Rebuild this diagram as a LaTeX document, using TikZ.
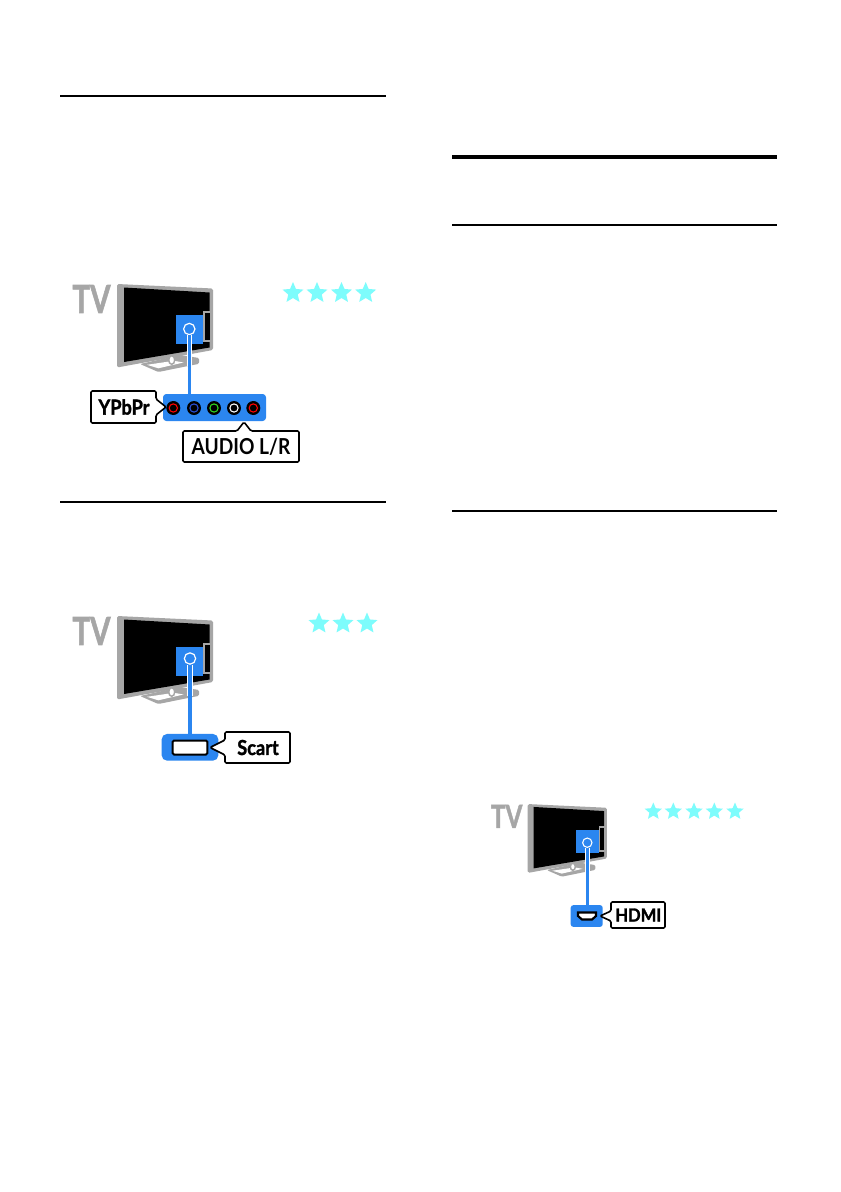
\documentclass[tikz,border=0pt]{standalone}
\usepackage{fontspec}
\setmainfont{Lato}
\newfontfamily\gillmed{Lato}[BoldFeatures={FakeBold=1.6}]
\newfontfamily\gillbold{Lato}
\usetikzlibrary{shapes.geometric}
\definecolor{tvgrey}{HTML}{A6A6A6}
\definecolor{tvblue}{HTML}{2B86F0}
\definecolor{starcyan}{HTML}{7DFCFC}
\definecolor{ringblue}{HTML}{2A50D8}
\definecolor{ringgreen}{HTML}{30D820}
\tikzset{
  x=0.75pt,y=-0.75pt,
  rulehair/.style={draw=black,line width=0.85pt},
  rulemid/.style={draw=black,line width=1.5pt},
  rulethick/.style={draw=black,line width=2.5pt},
  tvword/.style={text=tvgrey,font=\gillmed\bfseries\fontsize{29}{29}\selectfont,inner sep=0pt,anchor=center},
  starmark/.style={star,star points=5,star point ratio=2.2,fill=starcyan,draw=none,minimum size=16.5pt,inner sep=0pt},
  calloutline/.style={draw=black,line width=1.2pt,fill=white,line join=round,rounded corners=1pt},
  calloutlabel/.style={font=\gillmed\bfseries\fontsize{15.5}{16}\selectfont,inner sep=0pt,text=black,anchor=center},
  cablew/.style={draw=white,line width=4pt},
  cableb/.style={draw=tvblue,line width=2.5pt},
  jack/.style={circle,fill=black,draw=none,minimum size=10.5pt,inner sep=0pt},
}
% #1 x, #2 y origin of TV drawing (page pixels), #3 scale, #4 word size factor
\newcommand{\tvset}[4]{%
 \begin{scope}[shift={(#1,#2)},scale=#3]
  \node[tvword] (tvw) at (31.5,29) {\scalebox{#4}{\scalebox{0.76}[1]{TV}}};
  \fill[tvgrey,rounded corners=1.2pt] (57,14)--(153,18.5)--(153,80)--(57,97.5)--cycle;
  \fill[tvgrey,rounded corners=1pt] (80,94)--(98.3,102)--(139,93.8)--(139,88)--(120,85)--cycle;
  \fill[white] (87,94.8)--(98.3,98.3)--(123.5,92.5)--(114,90.8)--cycle;
  \fill[black] (64,17.5)--(149.5,22.5)--(149.5,77.5)--(64,92)--cycle;
  \fill[tvgrey] (143,41)--(151,41)--(151,72)--(143,72)--cycle;
  \fill[black] (145,43)--(149.5,43)--(149.5,70)--(145,70)--cycle;
  \fill[tvblue] (116,45)--(143,45)--(143,73.5)--(116,73.5)--cycle;
  \draw[tvgrey,line width=1.1pt,fill=white] (111.7,90) ellipse [x radius=3,y radius=4.3];
 \end{scope}}
\begin{document}
\begin{tikzpicture}
\useasboundingbox (0,0) rectangle (840,1192);
\fill[white] (0,0) rectangle (840,1192);
% rules
\draw[rulehair] (60,96) coordinate (r1a) -- (386,96) coordinate (r1b);
\draw[rulemid] (60,502) coordinate (r2a) -- (386,502) coordinate (r2b);
\draw[rulethick] (452,157) coordinate (r3a) -- (777,157) coordinate (r3b);
\draw[rulemid] (452,225) coordinate (r4a) -- (777,225) coordinate (r4b);
\draw[rulemid] (452,511) coordinate (r5a) -- (777,511) coordinate (r5b);

% ---------- YPbPr
\tvset{60}{270}{1}{1}
\foreach \sx in {293,317,341.5,365.7}{\node[starmark] at (\sx,293) {};}
\node[draw=none,fill=tvblue,rounded corners=2.5pt,minimum width=77.25pt,minimum height=20.25pt,inner sep=0pt] (ypb) at (214.5,407.5) {};
\node[circle,minimum size=8.5pt,inner sep=0pt,draw=white,line width=0.9pt] (p1) at (189.3,329) {};
\draw[cablew] (p1.south) -- (189.3,366);
\draw[cableb] (p1.south) -- (p1.south|-ypb.north);
\foreach \jx/\jc [count=\i] in {173.3/red,194/ringblue,214/ringgreen,234/white,253.3/red}{
  \node[jack] (j\i) at (\jx,408) {};
  \node[circle,draw=\jc,line width=0.8pt,minimum size=6.2pt,inner sep=0pt] at (\jx,408) {};
}
\draw[calloutline] (91,391) -- (156,391) -- (156,399) -- (166,407) -- (156,415) -- (156,423) -- (91,423) -- cycle;
\node[calloutlabel] (ypblabel) at (124,407) {\scalebox{0.88}[1]{YPbPr}};
\draw[calloutline] (183,431) -- (237,431) -- (244,422) -- (251,431) -- (299,431) -- (299,462) -- (183,462) -- cycle;
\node[calloutlabel,font=\gillbold\bfseries\fontsize{16.5}{17}\selectfont] (audiolabel) at (241,446.5) {\scalebox{0.87}[1]{AUDIO L/R}};

% ---------- Scart
\tvset{60}{602}{1}{1}
\foreach \sx in {319,343,367}{\node[starmark] at (\sx,623.5) {};}
\node[fill=tvblue,rounded corners=4pt,minimum width=42.5pt,minimum height=20pt,inner sep=0pt] (scartbox) at (190,747.3) {};
\node[circle,minimum size=8.5pt,inner sep=0pt,draw=white,line width=0.9pt] (p2) at (190,658.5) {};
\draw[cablew] (p2.south) -- (190,696);
\draw[cableb] (p2.south) -- (scartbox.north);
\node[draw=black,fill=white,line width=1.5pt,rounded corners=1pt,minimum width=26pt,minimum height=10.5pt,inner sep=0pt] (scartplug) at (190,747.5) {};
\draw[calloutline] (225,732) -- (290,732) -- (290,763) -- (225,763) -- (225,755) -- (210,747.5) -- (225,740) -- cycle;
\node[calloutlabel] (scartlabel) at (258,747.5) {\scalebox{0.88}[1]{Scart}};

% ---------- HDMI
\tvset{480.7}{792.5}{0.825}{0.825}
\foreach \sx in {653.3,673.3,694,714.3,735}{\node[starmark,minimum size=13.5pt] at (\sx,811.5) {};}
\node[fill=tvblue,rounded corners=2pt,minimum width=24pt,minimum height=16.3pt,inner sep=0pt] (hdmibox) at (586.7,916) {};
\node[circle,minimum size=7pt,inner sep=0pt,draw=white,line width=0.8pt] (p3) at (587.3,842.7) {};
\draw[cablew] (p3.south) -- (587.3,872);
\draw[cableb] (p3.south) -- (p3.south|-hdmibox.north);
\draw[draw=black,fill=white,line width=1.6pt] (578,912.5) -- (596,912.5) -- (596,916) -- (592,919.5) -- (582,919.5) -- (578,916) -- cycle;
\draw[calloutline] (611,902) -- (665,902) -- (665,928) -- (611,928) -- (611,921) -- (600,916) -- (611,911) -- cycle;
\node[calloutlabel,font=\gillmed\bfseries\fontsize{13.5}{14}\selectfont] (hdmilabel) at (638.3,915) {\scalebox{0.92}[1]{HDMI}};
\end{tikzpicture}
\end{document}
